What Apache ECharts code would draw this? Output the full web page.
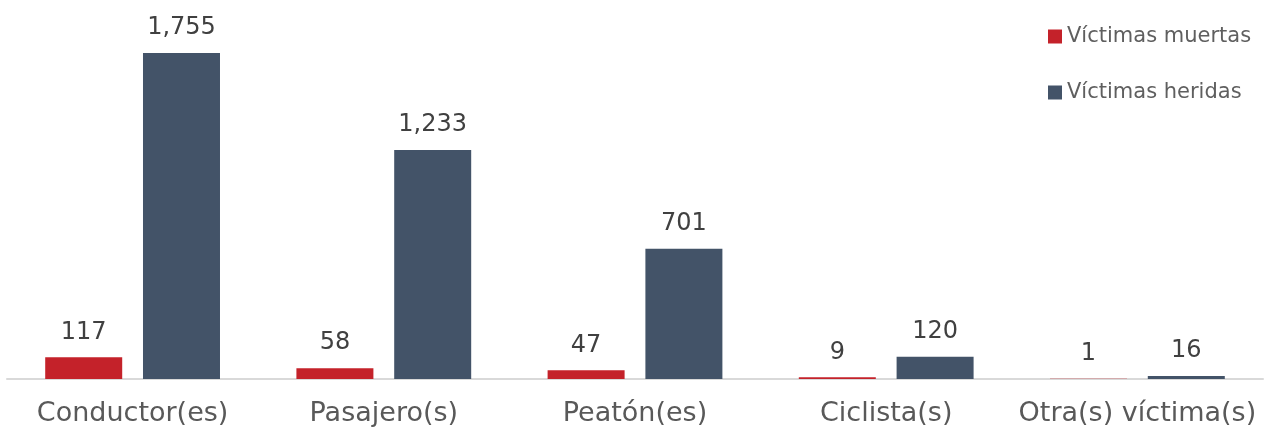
<!DOCTYPE html>
<html><head><meta charset="utf-8">
<script src="https://cdn.jsdelivr.net/npm/echarts@6/dist/echarts.min.js"></script>
<style>html,body{margin:0;padding:0;background:#fff}#c{width:1271px;height:427px}</style>
</head><body><div id="c"></div>
<script>
const categories = ["Conductor(es)", "Pasajero(s)", "Peatón(es)", "Ciclista(s)", "Otra(s) víctima(s)"];
const muertas = [117, 58, 47, 9, 1];
const heridas = [1755, 1233, 701, 120, 16];
const seriesNames = ["Víctimas muertas", "Víctimas heridas"];

const chart = echarts.init(document.getElementById('c'));
const labelStyle = {
  show: true, position: 'top', distance: 13,
  fontFamily: 'DejaVu Sans', fontSize: 24, color: '#404040',
  formatter: p => p.value.toLocaleString('en-US')
};
chart.setOption({
  animation: false,
  backgroundColor: '#fff',
  grid: { left: 7, right: 8, top: 7.6, bottom: 47, containLabel: false },
  legend: {
    orient: 'vertical', left: 1043, top: 21,
    itemWidth: 14, itemHeight: 14, itemGap: 35, icon: 'rect',
    textStyle: { fontFamily: 'DejaVu Sans', fontSize: 21, color: '#5f5f5f' },
    data: seriesNames
  },
  xAxis: {
    type: 'category', data: categories,
    axisLine: { lineStyle: { color: '#d9d9d9', width: 2 } },
    axisTick: { show: false },
    axisLabel: { fontFamily: 'DejaVu Sans', fontSize: 27, color: '#595959', margin: 21, interval: 0 }
  },
  yAxis: { type: 'value', min: 0, max: 2000, show: false, splitLine: { show: false } },
  series: [
    { name: seriesNames[0], type: 'bar', data: muertas, barWidth: 77, barGap: '27%',
      itemStyle: { color: '#C4222A' }, label: labelStyle },
    { name: seriesNames[1], type: 'bar', data: heridas, barWidth: 77,
      itemStyle: { color: '#435368' }, label: labelStyle }
  ]
});
</script></body></html>
